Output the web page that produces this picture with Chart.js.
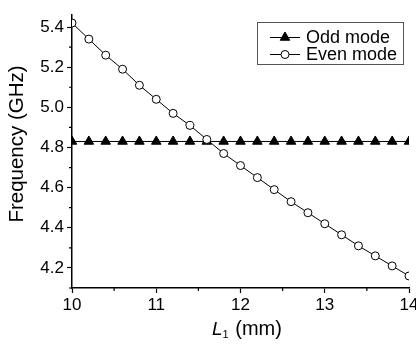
<!DOCTYPE html>
<html>
<head>
<meta charset="utf-8">
<script src="https://cdn.jsdelivr.net/npm/chart.js@4.4.1/dist/chart.umd.min.js"></script>
<style>
  html, body { margin: 0; padding: 0; background: #fff; }
  #wrap { width: 416px; height: 344px; position: relative; }
</style>
</head>
<body>
<div id="wrap"><canvas id="chart"></canvas></div>
<script>
// L1 (mm)
const lengths = [10, 10.2, 10.4, 10.6, 10.8, 11, 11.2, 11.4, 11.6, 11.8, 12, 12.2, 12.4, 12.6, 12.8, 13, 13.2, 13.4, 13.6, 13.8, 14];
const oddMode = [4.83, 4.83, 4.83, 4.83, 4.83, 4.83, 4.83, 4.83, 4.83, 4.83, 4.83, 4.83, 4.83, 4.83, 4.83, 4.83, 4.83, 4.83, 4.83, 4.83, 4.83];
const evenMode = [5.42, 5.34, 5.26, 5.19, 5.11, 5.04, 4.97, 4.91, 4.84, 4.77, 4.71, 4.65, 4.59, 4.53, 4.475, 4.42, 4.365, 4.31, 4.26, 4.21, 4.16];

const xTicks = [10, 11, 12, 13, 14];
const xMinor = [10.5, 11.5, 12.5, 13.5];
const yTicks = [4.2, 4.4, 4.6, 4.8, 5.0, 5.2, 5.4];
const yMinor = [4.1, 4.3, 4.5, 4.7, 4.9, 5.1, 5.3];

const FONT = '"Liberation Sans", Arial, Helvetica, sans-serif';

// minor ticks, axis titles and boxed legend
const extras = {
  id: 'extras',
  afterDraw(chart) {
    const ctx = chart.ctx;
    const xs = chart.scales.x, ys = chart.scales.y;
    const area = chart.chartArea;
    ctx.save();
    ctx.strokeStyle = '#000';
    ctx.lineWidth = 1.2;
    ctx.beginPath();
    xMinor.forEach(v => {
      const px = xs.getPixelForValue(v);
      ctx.moveTo(px, area.bottom);
      ctx.lineTo(px, area.bottom + 3);
    });
    yMinor.forEach(v => {
      const py = ys.getPixelForValue(v);
      ctx.moveTo(area.left, py);
      ctx.lineTo(area.left - 3, py);
    });
    ctx.stroke();

    // y title
    ctx.fillStyle = '#000';
    ctx.font = '20.5px ' + FONT;
    ctx.textAlign = 'center';
    ctx.textBaseline = 'middle';
    ctx.save();
    ctx.translate(17, 144);
    ctx.rotate(-Math.PI / 2);
    ctx.fillText('Frequency (GHz)', 0, 0);
    ctx.restore();

    // x title: L1 (mm)
    ctx.textAlign = 'left';
    ctx.textBaseline = 'alphabetic';
    let x = 212, base = 335;
    ctx.font = 'italic 19px ' + FONT;
    ctx.fillText('L', x, base);
    x += ctx.measureText('L').width;
    ctx.font = '11px ' + FONT;
    ctx.fillText('1', x, base + 3);
    x += ctx.measureText('1').width + 1;
    ctx.font = '20px ' + FONT;
    ctx.fillText(' (mm)', x, base);

    // legend box
    const lx = 257, ly = 22, lw = 146, lh = 42;
    ctx.lineWidth = 1;
    ctx.strokeStyle = '#555';
    ctx.strokeRect(lx + 0.5, ly + 0.5, lw, lh);
    const rows = [
      { label: 'Odd mode', ds: chart.data.datasets[1], y: 37.5 },
      { label: 'Even mode', ds: chart.data.datasets[0], y: 54.5 }
    ];
    rows.forEach(r => {
      ctx.strokeStyle = '#000';
      ctx.lineWidth = 1;
      ctx.beginPath();
      ctx.moveTo(270, r.y);
      ctx.lineTo(300, r.y);
      ctx.stroke();
      ctx.fillStyle = r.ds.pointBackgroundColor;
      Chart.helpers.drawPoint(ctx, {
        pointStyle: r.ds.pointStyle,
        radius: r.ds.pointRadius,
        borderWidth: 1,
        rotation: 0
      }, 285, r.y);
      ctx.fillStyle = '#000';
      ctx.font = '18px ' + FONT;
      ctx.textBaseline = 'middle';
      ctx.fillText(r.label, 306, r.y + 1);
    });
    ctx.restore();
  }
};

new Chart(document.getElementById('chart'), {
  type: 'line',
  data: {
    labels: lengths,
    datasets: [
      {
        label: 'Even mode',
        data: lengths.map((x, i) => ({ x: x, y: evenMode[i] })),
        borderColor: '#000',
        borderWidth: 1,
        pointStyle: 'circle',
        pointRadius: 4,
        pointBorderWidth: 1,
        pointBackgroundColor: '#fff',
        pointBorderColor: '#000',
        order: 0
      },
      {
        label: 'Odd mode',
        data: lengths.map((x, i) => ({ x: x, y: oddMode[i] })),
        borderColor: '#000',
        borderWidth: 1,
        pointStyle: 'triangle',
        pointRadius: 5.5,
        pointBorderWidth: 1,
        pointBackgroundColor: '#000',
        pointBorderColor: '#000',
        order: 1
      }
    ]
  },
  options: {
    responsive: true,
    maintainAspectRatio: false,
    animation: false,
    layout: { padding: { left: 0, right: 7, top: 15, bottom: 0 } },
    plugins: { legend: { display: false }, tooltip: { enabled: false } },
    scales: {
      x: {
        type: 'linear',
        min: 10,
        max: 14,
        afterBuildTicks: s => { s.ticks = xTicks.map(v => ({ value: v })); },
        afterFit: s => { s.height = 56; s.paddingLeft = 0; s.paddingRight = 0; },
        border: { display: true, color: '#000', width: 1.5 },
        grid: { drawOnChartArea: false, drawTicks: true, tickLength: 5, color: '#000', tickWidth: 1.2 },
        ticks: {
          color: '#000',
          padding: 2,
          maxRotation: 0,
          autoSkip: false,
          font: { family: FONT, size: 17 },
          callback: v => String(v)
        }
      },
      y: {
        min: 4.1,
        max: 5.46,
        afterBuildTicks: s => { s.ticks = yTicks.map(v => ({ value: v })); },
        afterFit: s => { s.width = 72; s.paddingTop = 0; s.paddingBottom = 0; },
        border: { display: true, color: '#000', width: 1.5 },
        grid: { drawOnChartArea: false, drawTicks: true, tickLength: 5, color: '#000', tickWidth: 1.2 },
        ticks: {
          color: '#000',
          padding: 3,
          autoSkip: false,
          font: { family: FONT, size: 17 },
          callback: v => v.toFixed(1)
        }
      }
    }
  },
  plugins: [extras]
});
</script>
</body>
</html>
